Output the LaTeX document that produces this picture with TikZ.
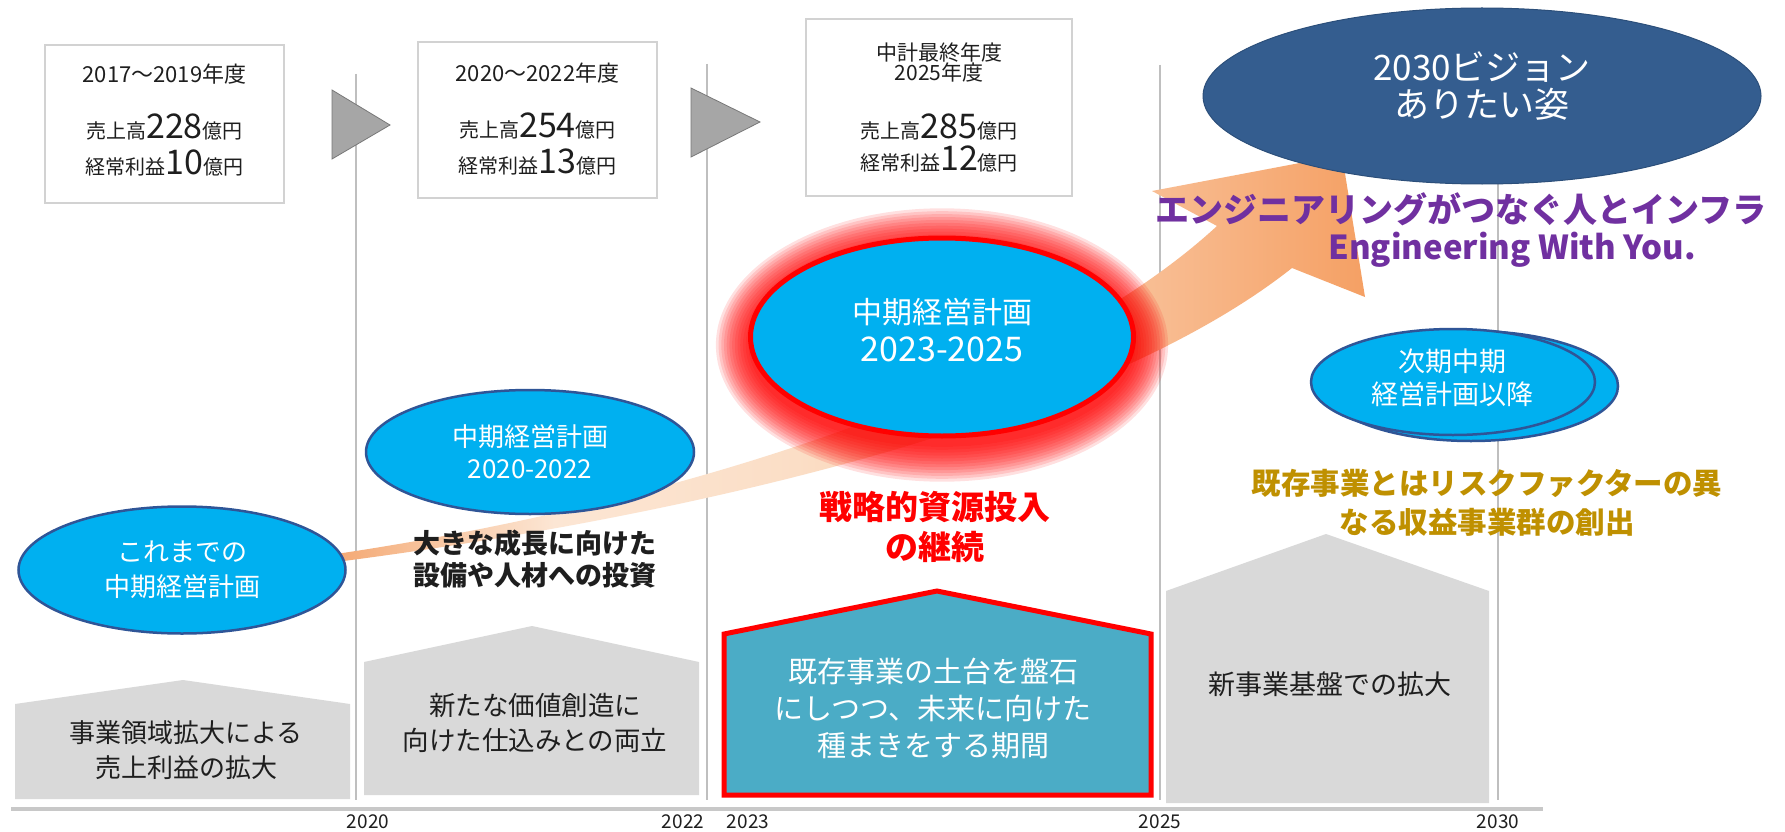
\documentclass[tikz,border=0pt]{standalone}
\usepackage{fontspec}
\setmainfont{Noto Sans CJK JP}
\usetikzlibrary{shapes.geometric}
\definecolor{boxline}{RGB}{210,210,210}
\definecolor{trifill}{RGB}{166,166,166}
\definecolor{triline}{RGB}{120,120,120}
\definecolor{vline}{RGB}{191,191,191}
\definecolor{axisc}{RGB}{200,200,200}
\definecolor{ellfill}{RGB}{0,176,240}
\definecolor{ellline}{RGB}{47,85,151}
\definecolor{darkell}{RGB}{52,93,143}
\definecolor{housegray}{RGB}{217,217,217}
\definecolor{tealthree}{RGB}{75,172,198}
\definecolor{purp}{RGB}{112,48,160}
\definecolor{goldc}{RGB}{191,144,0}
\definecolor{txtk}{RGB}{30,30,30}
\definecolor{redc}{RGB}{255,0,0}
\definecolor{orA}{RGB}{244,168,115}
\definecolor{orB}{RGB}{247,192,152}
\definecolor{orC}{RGB}{252,230,212}
\definecolor{orD}{RGB}{251,222,198}
\definecolor{orE}{RGB}{249,205,170}
\definecolor{orF}{RGB}{248,188,145}
\definecolor{orG}{RGB}{245,160,100}
\pgfdeclarehorizontalshading{arrowshade}{100bp}{color(0bp)=(orA); color(25bp)=(orA); color(28.8bp)=(orB); color(35.6bp)=(orC); color(47.4bp)=(orD); color(57bp)=(orE); color(65bp)=(orF); color(75bp)=(orG); color(100bp)=(orG)}
\newcommand{\myfs}[2]{\fontsize{#1pt}{#2pt}\selectfont}
\tikzset{
  vl/.style={draw=vline, line width=1.8pt},
  databox/.style={rectangle, draw=boxline, line width=1.5pt, fill=white, inner sep=0pt},
  tri/.style={fill=trifill, draw=triline, line width=0.8pt, line join=miter},
  plan/.style={ellipse, fill=ellfill, draw=ellline, line width=2.5pt, inner sep=0pt},
  wtxt/.style={inner sep=0pt, align=center, text=white},
  ktxt/.style={inner sep=0pt, align=center, text=txtk},
  house/.style={fill=housegray},
  yr/.style={inner sep=0pt, text=txtk, font=\myfs{19}{22}},
}
\begin{document}
\begin{tikzpicture}[x=1pt,y=-1pt]
\useasboundingbox (0,0) rectangle (1785,832);
\fill[white] (0,0) rectangle (1785,832);

% vertical period lines
\draw[vl] (356,74) -- (356,800);
\draw[vl] (707,64) -- (707,800);
\draw[vl] (1160,65) -- (1160,800);
\draw[vl] (1498,65) -- (1498,800);

% axis
\draw[line width=4pt, axisc] (11,809) -- (1543,809);

% year labels
\node[yr] (y2020) at (368,822) {2020};
\node[yr] (y2022) at (683,822) {2022};
\node[yr] (y2023) at (748,822) {2023};
\node[yr] (y2025) at (1160,822) {2025};
\node[yr] (y2030) at (1498,822) {2030};

% data boxes
\node[databox, minimum width=239pt, minimum height=158pt] (box1) at (164.5,124) {};
\node[databox, minimum width=239pt, minimum height=156pt] (box2) at (537.5,120) {};
\node[databox, minimum width=266pt, minimum height=177pt] (box3) at (939,107.5) {};

\node[ktxt, anchor=base] (b1a) at (164.5,83) {\myfs{22}{26}2017～2019年度};
\node[ktxt, anchor=base] (b1b) at (164.5,139) {\myfs{20}{24}売上高{\myfs{34}{38}228}億円};
\node[ktxt, anchor=base] (b1c) at (164.5,174) {\myfs{20}{24}経常利益{\myfs{34}{38}10}億円};

\node[ktxt, anchor=base] (b2a) at (537.5,82) {\myfs{22}{26}2020～2022年度};
\node[ktxt, anchor=base] (b2b) at (537.5,138) {\myfs{20}{24}売上高{\myfs{34}{38}254}億円};
\node[ktxt, anchor=base] (b2c) at (537.5,173) {\myfs{20}{24}経常利益{\myfs{34}{38}13}億円};

\node[ktxt, anchor=base] (b3a) at (939,61) {\myfs{21}{24}中計最終年度};
\node[ktxt, anchor=base] (b3b) at (939,81) {\myfs{21}{24}2025年度};
\node[ktxt, anchor=base] (b3c) at (939,139) {\myfs{20}{24}売上高{\myfs{34}{38}285}億円};
\node[ktxt, anchor=base] (b3d) at (939,171) {\myfs{20}{24}経常利益{\myfs{34}{38}12}億円};

% triangles
\coordinate (t1a) at (332,90); \coordinate (t1b) at (390,125); \coordinate (t1c) at (332,159);
\draw[tri] (t1a) -- (t1b) -- (t1c) -- cycle;
\coordinate (t2a) at (691,88); \coordinate (t2b) at (760,122); \coordinate (t2c) at (691,157);
\draw[tri] (t2a) -- (t2b) -- (t2c) -- cycle;

% houses
\fill[house] (15,799) -- (15,704) -- (183,680) -- (350,704) -- (350,799) -- cycle;
\fill[house] (364,795) -- (364,662) -- (532,626) -- (699,662) -- (699,795) -- cycle;
\filldraw[fill=tealthree, draw=redc, line width=5pt, line join=miter] (724,795) -- (724,634) -- (937,591) -- (1151,634) -- (1151,795) -- cycle;
\fill[house] (1166,803) -- (1166,591) -- (1326,534) -- (1489,591) -- (1489,803) -- cycle;

\node[ktxt, font=\myfs{26}{35}] (h1) at (186,750) {事業領域拡大による\\売上利益の拡大};
\node[ktxt, font=\myfs{26.5}{35}] (h2) at (535,723) {新たな価値創造に\\向けた仕込みとの両立};
\node[wtxt, font=\myfs{29}{37}] (h3) at (933,708) {既存事業の土台を盤石\\にしつつ、未来に向けた\\種まきをする期間};
\node[ktxt, font=\myfs{27}{32}] (h4) at (1330,684) {新事業基盤での拡大};

% orange arrow
\coordinate (arrtail) at (336,557);
\coordinate (arrtip) at (1342,155);
\path[shading=arrowshade] (336,554) .. controls (700,500) and (1050,380) .. (1217,226)
  -- (1152,191) -- (arrtip) -- (1365,297) -- (1292,268)
  .. controls (1100,420) and (700,515) .. (336,562) -- cycle;

% red glow
\foreach \i in {1,...,13} {
  \fill[redc, opacity=0.12] (942,345) ellipse [x radius={191+2.7*\i}, y radius={99+2.9*\i}];
}

% ellipses
\node[plan, minimum width=327pt, minimum height=127pt] (e1) at (182,570) {};
\node[plan, minimum width=328pt, minimum height=124pt] (e2) at (530,452) {};
\node[ellipse, fill=ellfill, draw=redc, line width=5pt, inner sep=0pt, minimum width=383pt, minimum height=198pt] (e3) at (942,337) {};
\node[plan, minimum width=294pt, minimum height=110pt] (e4back) at (1471,386) {};
\node[plan, minimum width=284pt, minimum height=106pt] (e4) at (1453,382) {};
\node[ellipse, fill=darkell, draw=darkell!85!black, line width=1pt, inner sep=0pt, minimum width=558pt, minimum height=176pt] (vision) at (1482,96) {};

% ellipse texts
\node[wtxt, font=\myfs{26}{35}] (e1t) at (e1) {これまでの\\中期経営計画};
\node[wtxt, font=\myfs{26}{32}] (e2t) at (e2) {中期経営計画\\2020-2022};
\node[wtxt, font=\myfs{30}{38}] (e3t) at (942,330) {中期経営計画\\{\myfs{34}{38}2023-2025}};
\node[wtxt, font=\myfs{27}{33}] (e4t) at (1452,378) {次期中期\\経営計画以降};
\node[wtxt, font=\myfs{35}{37}] (vt) at (1482,86) {2030ビジョン\\ありたい姿};

% other texts
\node[ktxt, font=\myfs{27}{32}\bfseries] (invest) at (535,559) {大きな成長に向けた\\設備や人材への投資};
\node[inner sep=0pt, align=center, text=redc, font=\myfs{33}{40}\bfseries] (strat) at (935,527) {戦略的資源投入\\の継続};
\node[inner sep=0pt, align=center, text=goldc, font=\myfs{29.5}{39}\bfseries] (newbiz) at (1487,503) {既存事業とはリスクファクターの異\\なる収益事業群の創出};
\node[inner sep=0pt, anchor=base, text=purp, font=\myfs{34}{38}\bfseries] (slogan) at (1461,222) {エンジニアリングがつなぐ人とインフラ};
\node[inner sep=0pt, anchor=base, text=purp, font=\myfs{33}{38}\bfseries] (slogen) at (1512,259) {Engineering With You.};
\end{tikzpicture}
\end{document}
